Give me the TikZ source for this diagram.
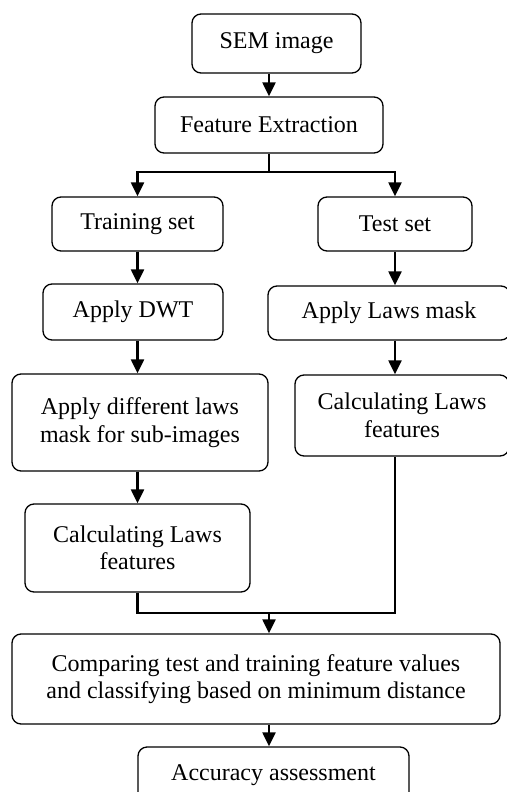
\documentclass[tikz,border=0pt]{standalone}
\usepackage{fontspec}
\setmainfont{Liberation Serif}
\usetikzlibrary{arrows.meta,positioning,calc}

\begin{document}
\begin{tikzpicture}[
        x=1pt, y=-1pt,
        font=\fontsize{24}{27.5}\selectfont,
        box/.style={draw, line width=1.3pt, rounded corners=9pt,
                    align=center, inner sep=2pt},
        arr/.style={-{Triangle[length=14pt,width=13pt]}, line width=2.2pt},
        link/.style={line width=2.2pt}
    ]
        \useasboundingbox (0,0) rectangle (506,792);
        \node[box, minimum width=169pt, minimum height=59pt] (sem) at (276.5,43.5) {SEM image};
        \node[box, minimum width=228pt, minimum height=56pt] (feat) at (269,125) {Feature Extraction};
        \node[box, minimum width=171pt, minimum height=54pt] (train) at (137.5,224) {Training set};
        \node[box, minimum width=154pt, minimum height=54pt] (test) at (395,224) {Test set};
        \node[box, minimum width=180pt, minimum height=56pt] (dwt) at (133,312) {Apply DWT};
        \node[box, minimum width=242pt, minimum height=54pt] (lawsmask) at (389,313) {Apply Laws mask};
        \node[box, minimum width=256pt, minimum height=97pt] (difflaws) at (140,422.5)
            {Apply different laws\\mask for sub-images};
        \node[box, minimum width=214pt, minimum height=81pt] (calcright) at (402,415.5)
            {Calculating Laws\\features};
        \node[box, minimum width=225pt, minimum height=88pt] (calcleft) at (137.5,548)
            {Calculating Laws\\features};
        \node[box, minimum width=488pt, minimum height=90pt] (comp) at (256,679)
            {Comparing test and training feature values\\and classifying based on minimum distance};
        \node[box, minimum width=271pt, minimum height=56pt] (acc) at (273.5,775) {Accuracy assessment};

        \coordinate (split) at (269,172);
        \coordinate (merge) at (269,613);

        \draw[arr] (feat.north |- sem.south) -- (feat.north);
        \draw[link] (feat.south) -- (split);
        \draw[arr] (split) -| (train.north);
        \draw[arr] (split) -| (test.north);
        \draw[arr] (train.south) -- (train.south |- dwt.north);
        \draw[arr] (test.south) -- (test.south |- lawsmask.north);
        \draw[arr] (train.south |- dwt.south) -- (train.south |- difflaws.north);
        \draw[arr] (test.south |- lawsmask.south) -- (test.south |- calcright.north);
        \draw[arr] (train.south |- difflaws.south) -- (train.south |- calcleft.north);
        \draw[link] (train.south |- calcleft.south) -- (train.south |- merge)
            -| (test.south |- calcright.south);
        \draw[arr] (merge) -- (comp.north -| merge);
        \draw[arr] (comp.south -| merge) -- (acc.north -| merge);
    \end{tikzpicture}
\end{document}
